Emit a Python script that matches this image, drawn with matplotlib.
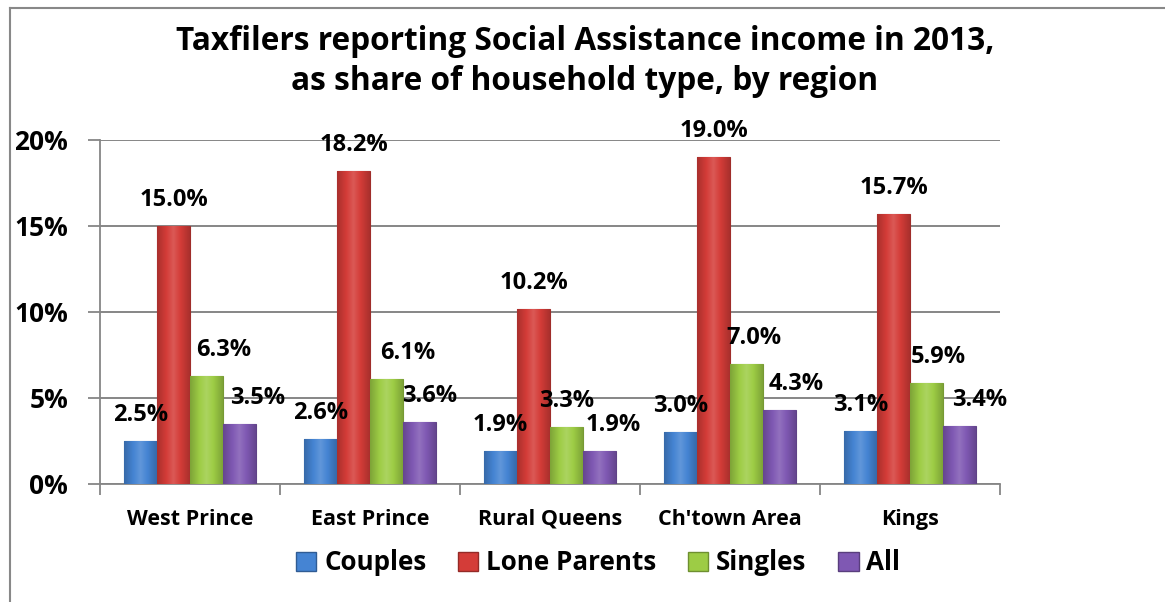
import numpy as np
import matplotlib.pyplot as plt
from matplotlib.lines import Line2D
from matplotlib.colors import to_rgb

plt.rcParams['font.family'] = ['Open Sans', 'DejaVu Sans']

regions = ['West Prince', 'East Prince', 'Rural Queens', "Ch'town Area", 'Kings']
couples = [2.5, 2.6, 1.9, 3.0, 3.1]
lone_parents = [15.0, 18.2, 10.2, 19.0, 15.7]
singles = [6.3, 6.1, 3.3, 7.0, 5.9]
all_types = [3.5, 3.6, 1.9, 4.3, 3.4]

series = [couples, lone_parents, singles, all_types]
names = ['Couples', 'Lone Parents', 'Singles', 'All']
colors = ['#4584d3', '#d43c38', '#9dcc45', '#7f58b3']

# sideways nudge of the value labels (pixels), per series then region, as placed in the original
label_dx = [[0, 0, 0, 0, 0],
            [0, 0, 0, 0, 0],
            [17, 21, 0, 7, 12],
            [18, 10, 14, 17, 20]]

fig = plt.figure(figsize=(11.65, 6.02), dpi=100)
ax = fig.add_axes([100/1165, 1-484/602, 900/1165, 344/602])

x = np.arange(len(regions))
w = 0.183

def shade(c, f):
    r = np.array(to_rgb(c))
    return np.clip(r * f, 0, 1) if f < 1 else np.clip(r + (1 - r) * (f - 1), 0, 1)

for i, (vals, c) in enumerate(zip(series, colors)):
    pos = x + (i - 1.5) * w
    bars = ax.bar(pos, vals, width=w, color=c, edgecolor=shade(c, 0.75), linewidth=0.8, zorder=3)
    for j, (b, v) in enumerate(zip(bars, vals)):
        # horizontal gradient for a bevel look
        t = np.linspace(0, 1, 64)
        prof = 1 - np.abs(t - 0.5) * 2
        img = np.zeros((2, 64, 3))
        for k in range(64):
            img[:, k, :] = shade(c, 0.8 + 0.35 * prof[k])
        im = ax.imshow(img, extent=[b.get_x(), b.get_x() + w, 0, v], aspect='auto', zorder=3.5,
                       interpolation='bilinear')
        im.set_clip_path(b)
        ax.annotate(f'{v:.1f}%', (b.get_x() + w / 2, v), xytext=(label_dx[i][j], 26),
                    textcoords='offset pixels', ha='center', va='center',
                    fontsize=17, fontweight='bold', zorder=5)

ax.set_xlim(-0.5, len(regions) - 0.5)
ax.set_ylim(0, 20)
ax.set_yticks([0, 5, 10, 15, 20])
ax.set_yticklabels(['0%', '5%', '10%', '15%', '20%'], fontsize=19, fontweight='bold')
ax.set_xticks(x)
ax.set_xticklabels(regions, fontsize=15.5, fontweight='bold')
ax.set_xticks(np.arange(len(regions) + 1) - 0.5, minor=True)
ax.tick_params(axis='x', which='major', length=0, pad=18)
ax.tick_params(axis='x', which='minor', length=8, width=1.3, color='#868686')
ax.tick_params(axis='y', length=9, width=1.3, color='#868686', pad=14)
ax.yaxis.grid(True, color='#868686', linewidth=1.4, zorder=0)
ax.set_axisbelow(True)
for s in ['top', 'right']:
    ax.spines[s].set_visible(False)
for s in ['left', 'bottom']:
    ax.spines[s].set_color('#868686')
    ax.spines[s].set_linewidth(1.3)

fig.text(0.502, 1 - 42/602, 'Taxfilers reporting Social Assistance income in 2013,', ha='center', va='center',
         fontsize=22.8, fontweight='bold')
fig.text(0.502, 1 - 82/602, 'as share of household type, by region', ha='center', va='center',
         fontsize=22.8, fontweight='bold')

handles = [plt.Rectangle((0, 0), 1, 1, facecolor=c, edgecolor=shade(c, 0.7)) for c in colors]
fig.legend(handles, names, loc='center', bbox_to_anchor=(598/1165, 1 - 563/602), ncol=4, frameon=False,
           prop={'size': 18.7, 'weight': 'bold'}, handlelength=0.8, handleheight=0.8, handletextpad=0.3,
           columnspacing=1.2)

fig.add_artist(Line2D([10/1165, 1], [1 - 8/602, 1 - 8/602], color='#888888', linewidth=1.5))
fig.add_artist(Line2D([10/1165, 10/1165], [0, 1 - 8/602], color='#888888', linewidth=1.5))

fig.savefig('out.png', dpi=100)
